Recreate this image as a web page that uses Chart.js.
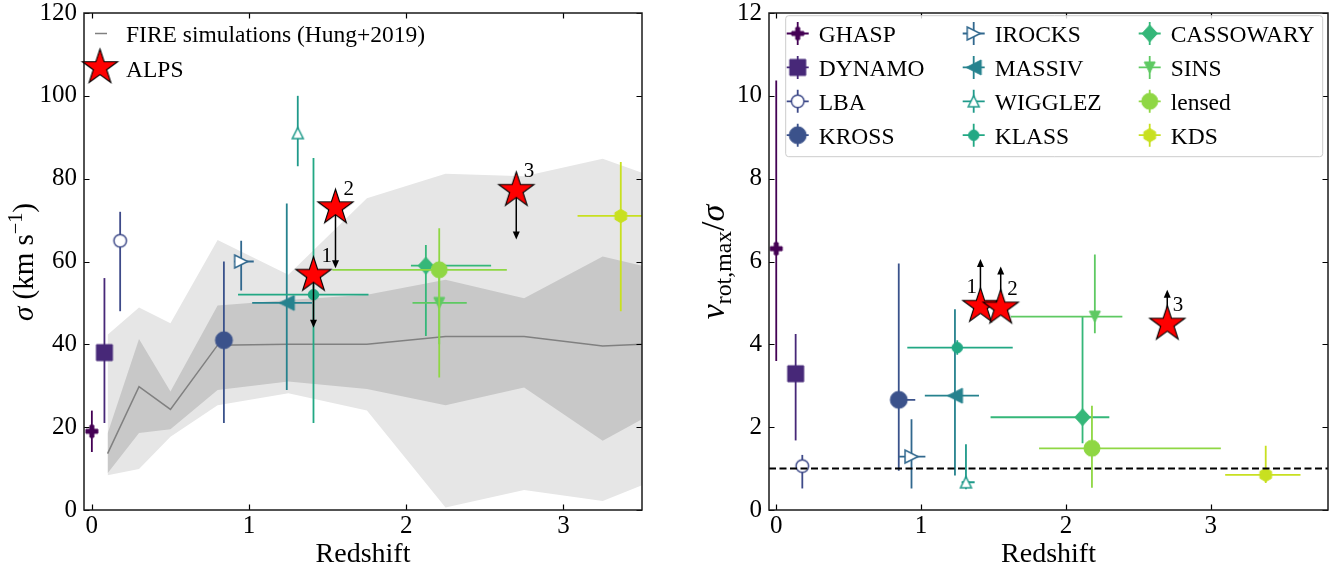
<!DOCTYPE html>
<html>
<head>
<meta charset="utf-8">
<script src="https://cdn.jsdelivr.net/npm/chart.js@4.4.0/dist/chart.umd.min.js"></script>
<style>
  html, body { margin: 0; padding: 0; background: #fff; }
  #wrap { position: relative; width: 1341px; height: 569px; }
  #left { position: absolute; left: 0; top: 0; }
  #right { position: absolute; left: 670px; top: 0; }
</style>
</head>
<body>
<div id="wrap">
  <canvas id="left" width="670" height="569"></canvas>
  <canvas id="right" width="671" height="569"></canvas>
</div>
<script>
// ---- data ----
const surveys = ['GHASP', 'DYNAMO', 'LBA', 'KROSS', 'IROCKS', 'MASSIV', 'WIGGLEZ', 'KLASS', 'CASSOWARY', 'SINS', 'lensed', 'KDS'];

// left panel: velocity dispersion vs redshift
const sigZ    = [0.00, 0.08, 0.18, 0.84, 0.95, 1.24, 1.31, 1.41, 2.125, 2.21, 2.21, 3.365];
const sigZLo  = [0.00, 0.08, 0.18, 0.84, 0.905, 1.02, 1.31, 0.93, 2.03, 2.04, 1.53, 3.09];
const sigZHi  = [0.00, 0.08, 0.18, 0.89, 1.03, 1.40, 1.31, 1.76, 2.54, 2.385, 2.64, 3.65];
const sigma   = [19, 38, 65, 41, 60, 50, 91, 52, 59, 50, 58, 71];
const sigmaLo = [14, 21, 48, 21, 53, 29, 83, 21, 42, 40, 32, 48];
const sigmaHi = [24, 56, 72, 60, 65, 74, 100, 85, 64, 60, 68, 84];

// right panel: v_rot,max / sigma vs redshift
const vsZ    = [0.00, 0.134, 0.18, 0.846, 0.934, 1.234, 1.31, 1.25, 2.115, 2.20, 2.18, 3.38];
const vsZLo  = [0.00, 0.134, 0.18, 0.81, 0.846, 1.026, 1.28, 0.905, 1.48, 1.62, 1.815, 3.10];
const vsZHi  = [0.00, 0.134, 0.18, 0.96, 1.03, 1.40, 1.37, 1.633, 2.30, 2.39, 3.07, 3.62];
const vsig   = [6.31, 3.29, 1.06, 2.66, 1.29, 2.76, 0.67, 3.92, 2.24, 4.67, 1.49, 0.85];
const vsigLo = [3.60, 1.68, 0.52, 0.95, 0.52, 0.83, 0.50, 3.75, 1.61, 4.27, 0.54, 0.65];
const vsigHi = [10.37, 4.25, 1.33, 5.95, 2.19, 4.85, 1.59, 4.10, 4.67, 6.17, 2.52, 1.55];

// ALPS sources (limits shown as arrows)
const alpsId        = ['1', '2', '3'];
const alpsZ         = [1.41, 1.55, 2.70];
const alpsSigma     = [56.7, 73.0, 77.2];
const alpsSigmaLim  = [44.0, 58.4, 65.3];
const alpsVsig      = [4.92, 4.88, 4.49];
const alpsVsigLim   = [6.06, 5.88, 5.32];

// FIRE simulations (Hung+2019)
const fireZ   = [0.1, 0.3, 0.5, 0.8, 1.25, 1.75, 2.25, 2.75, 3.25, 3.75];
const fireMed = [13.6, 29.8, 24.3, 39.8, 40.0, 40.0, 41.9, 41.9, 39.6, 40.4];
const fireP16 = [8.9, 18.6, 19.5, 29.0, 31.0, 29.2, 25.3, 29.6, 16.7, 27.1];
const fireP84 = [18.5, 41.3, 28.6, 49.4, 50.7, 52.0, 55.6, 51.1, 61.2, 56.8];
const fireP02 = [8.4, 9.9, 17.7, 25.3, 28.2, 24.0, 0.6, 4.8, 2.2, 9.8];
const fireP98 = [42.3, 48.9, 45.1, 65.2, 56.8, 75.3, 81.2, 80.6, 84.8, 78.0];

const unityLevel = 1;

const zTicks     = [0, 1, 2, 3];
const sigmaTicks = [0, 20, 40, 60, 80, 100, 120];
const vsigTicks  = [0, 2, 4, 6, 8, 10, 12];

// ---- styles ----
const SERIF = '"Liberation Serif", "Times New Roman", serif';
const surveyColors = ['#440154', '#472878', '#3e4a89', '#3b528b', '#31688e', '#26828e',
                      '#1f9a8a', '#22a884', '#35b779', '#5ec962', '#8fd744', '#c8e020'];
const markerSpecs = [
  {shape: 'plus', d: 12},
  {shape: 'square', d: 16},
  {shape: 'circle', d: 12.5, open: true},
  {shape: 'circle', d: 17},
  {shape: 'tri', d: 13, rot: 90, open: true},
  {shape: 'tri', d: 15, rot: -90},
  {shape: 'tri', d: 11, rot: 0, open: true},
  {shape: 'circle', d: 10.5},
  {shape: 'diamond', d: 17},
  {shape: 'tri', d: 11, rot: 180},
  {shape: 'circle', d: 16},
  {shape: 'hex', d: 13.5}
];
const fireLight = '#e6e6e6';
const fireDark = '#c8c8c8';
const fireLine = '#808080';

function makeMarker(spec, color) {
  const d = spec.d;
  const s = Math.ceil(d + 6);
  const c = document.createElement('canvas');
  c.width = s; c.height = s;
  const g = c.getContext('2d');
  g.translate(s / 2, s / 2);
  g.rotate((spec.rot || 0) * Math.PI / 180);
  const r = d / 2;
  g.beginPath();
  if (spec.shape === 'circle') {
    g.arc(0, 0, r, 0, 2 * Math.PI);
  } else if (spec.shape === 'square') {
    g.rect(-r, -r, d, d);
  } else if (spec.shape === 'diamond') {
    g.moveTo(0, -r); g.lineTo(r * 0.9, 0); g.lineTo(0, r); g.lineTo(-r * 0.9, 0); g.closePath();
  } else if (spec.shape === 'tri') {
    g.moveTo(0, -r); g.lineTo(r, r); g.lineTo(-r, r); g.closePath();
  } else if (spec.shape === 'hex') {
    for (let k = 0; k < 6; k++) {
      const a = -Math.PI / 2 + k * Math.PI / 3;
      k ? g.lineTo(r * Math.cos(a), r * Math.sin(a)) : g.moveTo(r * Math.cos(a), r * Math.sin(a));
    }
    g.closePath();
  } else if (spec.shape === 'plus') {
    const t = d / 6;
    g.moveTo(-t, -r); g.lineTo(t, -r); g.lineTo(t, -t); g.lineTo(r, -t); g.lineTo(r, t);
    g.lineTo(t, t); g.lineTo(t, r); g.lineTo(-t, r); g.lineTo(-t, t); g.lineTo(-r, t);
    g.lineTo(-r, -t); g.lineTo(-t, -t); g.closePath();
  }
  g.fillStyle = spec.open ? '#ffffff' : color;
  g.fill();
  g.strokeStyle = color;
  g.lineWidth = spec.open ? 1.5 : 1;
  g.stroke();
  return c;
}

function makeStar(R) {
  const s = Math.ceil(2 * R + 4);
  const c = document.createElement('canvas');
  c.width = s; c.height = s;
  const g = c.getContext('2d');
  g.translate(s / 2, s / 2);
  g.beginPath();
  for (let k = 0; k < 10; k++) {
    const a = -Math.PI / 2 + k * Math.PI / 5;
    const rr = k % 2 ? R * 0.381966 : R;
    k ? g.lineTo(rr * Math.cos(a), rr * Math.sin(a)) : g.moveTo(rr * Math.cos(a), rr * Math.sin(a));
  }
  g.closePath();
  g.fillStyle = '#ff0000';
  g.fill();
  g.strokeStyle = '#000';
  g.lineWidth = 1.1;
  g.stroke();
  return c;
}

const markerImgs = markerSpecs.map((m, i) => makeMarker(m, surveyColors[i]));
const starImg = makeStar(18.5);

// ---- plugins ----
const errorBars = {
  id: 'errorBars',
  beforeDatasetDraw(chart, args) {
    const ds = chart.data.datasets[args.index];
    if (!ds.err) return;
    const {ctx, chartArea: a} = chart;
    const xs = chart.scales.x, ys = chart.scales.y;
    ctx.save();
    ctx.beginPath();
    ctx.rect(a.left, a.top, a.right - a.left, a.bottom - a.top);
    ctx.clip();
    ctx.strokeStyle = ds.errColor;
    ctx.lineWidth = 1.8;
    ds.data.forEach((p, i) => {
      const e = ds.err[i];
      const px = xs.getPixelForValue(p.x), py = ys.getPixelForValue(p.y);
      ctx.beginPath();
      if (e.xHi > e.xLo) {
        ctx.moveTo(xs.getPixelForValue(e.xLo), py);
        ctx.lineTo(xs.getPixelForValue(e.xHi), py);
      }
      if (e.yHi > e.yLo) {
        ctx.moveTo(px, ys.getPixelForValue(e.yLo));
        ctx.lineTo(px, ys.getPixelForValue(e.yHi));
      }
      ctx.stroke();
    });
    ctx.restore();
  }
};

const limitArrows = {
  id: 'limitArrows',
  beforeDatasetDraw(chart, args) {
    const ds = chart.data.datasets[args.index];
    if (!ds.limits) return;
    const ctx = chart.ctx;
    const xs = chart.scales.x, ys = chart.scales.y;
    ctx.save();
    ctx.strokeStyle = '#000';
    ctx.fillStyle = '#000';
    ctx.lineWidth = 1.5;
    ds.data.forEach((p, i) => {
      const px = xs.getPixelForValue(p.x);
      const y0 = ys.getPixelForValue(p.y), y1 = ys.getPixelForValue(ds.limits[i]);
      const dir = Math.sign(y1 - y0);
      ctx.beginPath();
      ctx.moveTo(px, y0);
      ctx.lineTo(px, y1 - dir * 5);
      ctx.stroke();
      ctx.beginPath();
      ctx.moveTo(px, y1);
      ctx.lineTo(px - 3.5, y1 - dir * 8);
      ctx.lineTo(px + 3.5, y1 - dir * 8);
      ctx.closePath();
      ctx.fill();
    });
    ctx.restore();
  },
  afterDatasetDraw(chart, args) {
    const ds = chart.data.datasets[args.index];
    if (!ds.tags) return;
    const ctx = chart.ctx;
    const xs = chart.scales.x, ys = chart.scales.y;
    ctx.save();
    ctx.font = '21px ' + SERIF;
    ctx.fillStyle = '#000';
    ctx.textBaseline = 'alphabetic';
    ds.data.forEach((p, i) => {
      ctx.fillText(ds.tags[i], xs.getPixelForValue(p.x) + ds.tagDx[i], ys.getPixelForValue(p.y) - 13);
    });
    ctx.restore();
  }
};

const frame = {
  id: 'frame',
  afterDatasetsDraw(chart) {
    const {ctx, chartArea: a} = chart;
    const xs = chart.scales.x, ys = chart.scales.y;
    ctx.save();
    ctx.strokeStyle = '#000';
    ctx.lineWidth = 1.2;
    ctx.beginPath();
    xs.ticks.forEach(t => {
      const px = Math.round(xs.getPixelForValue(t.value)) + 0.5;
      ctx.moveTo(px, a.bottom); ctx.lineTo(px, a.bottom - 5.5);
      ctx.moveTo(px, a.top); ctx.lineTo(px, a.top + 5.5);
    });
    ys.ticks.forEach(t => {
      const py = Math.round(ys.getPixelForValue(t.value)) + 0.5;
      ctx.moveTo(a.left, py); ctx.lineTo(a.left + 5.5, py);
      ctx.moveTo(a.right, py); ctx.lineTo(a.right - 5.5, py);
    });
    ctx.stroke();
    ctx.strokeStyle = '#1a1a1a';
    ctx.lineWidth = 1.5;
    ctx.strokeRect(a.left, a.top, a.right - a.left, a.bottom - a.top);
    ctx.restore();
  }
};

function drawRich(ctx, parts, size, cx, cy, rotate) {
  ctx.save();
  ctx.translate(cx, cy);
  if (rotate) ctx.rotate(-Math.PI / 2);
  ctx.textBaseline = 'alphabetic';
  ctx.fillStyle = '#000';
  const fontOf = p => (p.i ? 'italic ' : '') + (size * (p.s || 1)) + 'px ' + SERIF;
  let total = 0;
  const widths = parts.map(p => { ctx.font = fontOf(p); const w = ctx.measureText(p.t).width; total += w; return w; });
  let x = -total / 2;
  parts.forEach((p, k) => {
    ctx.font = fontOf(p);
    ctx.fillText(p.t, x, p.dy || 0);
    x += widths[k];
  });
  ctx.restore();
}

const decor = {
  id: 'decor',
  afterDraw(chart, args, o) {
    const {ctx, chartArea: a} = chart;
    drawRich(ctx, [{t: o.xTitle}], 28, (a.left + a.right) / 2, o.xTitleBaseline, false);
    drawRich(ctx, o.yTitle, o.titleSize, o.yTitleX, o.yTitleY, true);
    if (o.legend === 'left') drawLeftLegend(ctx, a);
    if (o.legend === 'right') drawRightLegend(ctx, a);
  }
};

function drawLeftLegend(ctx, a) {
  ctx.save();
  ctx.strokeStyle = fireLine;
  ctx.lineWidth = 1.5;
  ctx.beginPath();
  ctx.moveTo(a.left + 11, a.top + 20.5);
  ctx.lineTo(a.left + 23, a.top + 20.5);
  ctx.stroke();
  ctx.drawImage(starImg, a.left + 16 - starImg.width / 2, a.top + 54.5 - starImg.height / 2);
  ctx.font = '23.5px ' + SERIF;
  ctx.fillStyle = '#000';
  ctx.textBaseline = 'alphabetic';
  ctx.fillText('FIRE simulations (Hung+2019)', a.left + 42, a.top + 29);
  ctx.fillText('ALPS', a.left + 42, a.top + 64);
  ctx.restore();
}

function drawRightLegend(ctx, a) {
  ctx.save();
  const bx = a.left + 16.7, by = a.top + 2.7, bw = 537, bh = 141, rr = 3;
  ctx.beginPath();
  ctx.moveTo(bx + rr, by);
  ctx.arcTo(bx + bw, by, bx + bw, by + bh, rr);
  ctx.arcTo(bx + bw, by + bh, bx, by + bh, rr);
  ctx.arcTo(bx, by + bh, bx, by, rr);
  ctx.arcTo(bx, by, bx + bw, by, rr);
  ctx.closePath();
  ctx.fillStyle = 'rgba(255,255,255,0.8)';
  ctx.fill();
  ctx.strokeStyle = '#cccccc';
  ctx.lineWidth = 1;
  ctx.stroke();
  ctx.font = '23.5px ' + SERIF;
  ctx.textBaseline = 'alphabetic';
  surveys.forEach((name, i) => {
    const col = Math.floor(i / 4), row = i % 4;
    const mx = a.left + 28.7 + col * 176, my = a.top + 20.5 + row * 33.9;
    ctx.strokeStyle = surveyColors[i];
    ctx.lineWidth = 1.8;
    ctx.beginPath();
    ctx.moveTo(mx - 11, my); ctx.lineTo(mx + 11, my);
    ctx.moveTo(mx, my - 11.5); ctx.lineTo(mx, my + 11.5);
    ctx.stroke();
    const img = markerImgs[i];
    ctx.drawImage(img, mx - img.width / 2, my - img.height / 2);
    ctx.fillStyle = '#000';
    ctx.fillText(name, mx + 21, my + 8.5);
  });
  ctx.restore();
}

// ---- helpers to build the chart config ----
function axisCfg(axis, min, max, ticks, size, pad) {
  return {
    type: 'linear',
    min: min,
    max: max,
    grid: {display: false, drawTicks: false},
    border: {display: false},
    afterBuildTicks: s => { s.ticks = ticks.map(v => ({value: v})); },
    afterFit: s => {
      if (axis === 'x') s.height = size; else s.width = size;
      s.paddingLeft = 0; s.paddingRight = 0; s.paddingTop = 0; s.paddingBottom = 0;
    },
    ticks: {
      font: {family: SERIF, size: 25},
      color: '#000',
      padding: pad,
      maxRotation: 0,
      autoSkip: false,
      callback: v => String(v)
    }
  };
}

function pts(xs, ys) { return xs.map((x, i) => ({x: x, y: ys[i]})); }

function surveyDatasets(zs, zLo, zHi, vals, lo, hi) {
  return surveys.map((name, i) => ({
    type: 'scatter',
    label: name,
    data: [{x: zs[i], y: vals[i]}],
    err: [{xLo: zLo[i], xHi: zHi[i], yLo: lo[i], yHi: hi[i]}],
    errColor: surveyColors[i],
    pointStyle: markerImgs[i],
    pointRadius: 6,
    order: 20 - i
  }));
}

function bandLine(data, fill, color, order) {
  return {
    type: 'line',
    data: data,
    fill: fill,
    backgroundColor: color,
    borderColor: 'rgba(0,0,0,0)',
    borderWidth: 0,
    pointRadius: 0,
    order: order
  };
}

const plugins = [errorBars, limitArrows, frame, decor];

// ---- left chart: sigma ----
new Chart(document.getElementById('left'), {
  type: 'scatter',
  data: {
    datasets: [
      bandLine(pts(fireZ, fireP98), '+1', fireLight, 50),
      bandLine(pts(fireZ, fireP02), false, fireLight, 50),
      bandLine(pts(fireZ, fireP84), '+1', fireDark, 49),
      bandLine(pts(fireZ, fireP16), false, fireDark, 49),
      {
        type: 'line', label: 'FIRE simulations (Hung+2019)', data: pts(fireZ, fireMed),
        borderColor: fireLine, borderWidth: 1.5, pointRadius: 0, fill: false, order: 48
      },
      ...surveyDatasets(sigZ, sigZLo, sigZHi, sigma, sigmaLo, sigmaHi),
      {
        type: 'scatter', label: 'ALPS', data: pts(alpsZ, alpsSigma),
        limits: alpsSigmaLim, tags: alpsId, tagDx: [8, 8, 7.5],
        pointStyle: starImg, pointRadius: 10, order: 0
      }
    ]
  },
  options: {
    responsive: false,
    animation: false,
    events: [],
    layout: {padding: {left: 0, right: 28, top: 13, bottom: 0}},
    scales: {
      x: axisCfg('x', -0.05, 3.5, zTicks, 59, 1),
      y: axisCfg('y', 0, 120, sigmaTicks, 84, 7)
    },
    plugins: {
      legend: {display: false},
      tooltip: {enabled: false},
      decor: {
        xTitle: 'Redshift', xTitleBaseline: 562, titleSize: 29,
        yTitle: [{t: 'σ', i: true}, {t: ' (km s'}, {t: '−1', s: 0.7, dy: -11}, {t: ')'}],
        yTitleX: 33, yTitleY: 262,
        legend: 'left'
      }
    }
  },
  plugins: plugins
});

// ---- right chart: v_rot,max / sigma ----
new Chart(document.getElementById('right'), {
  type: 'scatter',
  data: {
    datasets: [
      ...surveyDatasets(vsZ, vsZLo, vsZHi, vsig, vsigLo, vsigHi),
      {
        type: 'line', data: [{x: -0.05, y: unityLevel}, {x: 3.81, y: unityLevel}],
        borderColor: '#000', borderWidth: 2, borderDash: [7, 3.5], pointRadius: 0, fill: false, order: 2
      },
      {
        type: 'scatter', label: 'ALPS', data: pts(alpsZ, alpsVsig),
        limits: alpsVsigLim, tags: alpsId, tagDx: [-14, 6.5, 5.5],
        pointStyle: starImg, pointRadius: 10, order: 0
      }
    ]
  },
  options: {
    responsive: false,
    animation: false,
    events: [],
    layout: {padding: {left: 0, right: 13, top: 13, bottom: 0}},
    scales: {
      x: axisCfg('x', -0.05, 3.81, zTicks, 59, 1),
      y: axisCfg('y', 0, 12, vsigTicks, 99, 7)
    },
    plugins: {
      legend: {display: false},
      tooltip: {enabled: false},
      decor: {
        xTitle: 'Redshift', xTitleBaseline: 562, titleSize: 34,
        yTitle: [{t: 'v', i: true}, {t: 'rot,max', s: 0.7, dy: 7}, {t: '/'}, {t: 'σ', i: true}],
        yTitleX: 54, yTitleY: 262,
        legend: 'right'
      }
    }
  },
  plugins: plugins
});
</script>
</body>
</html>
